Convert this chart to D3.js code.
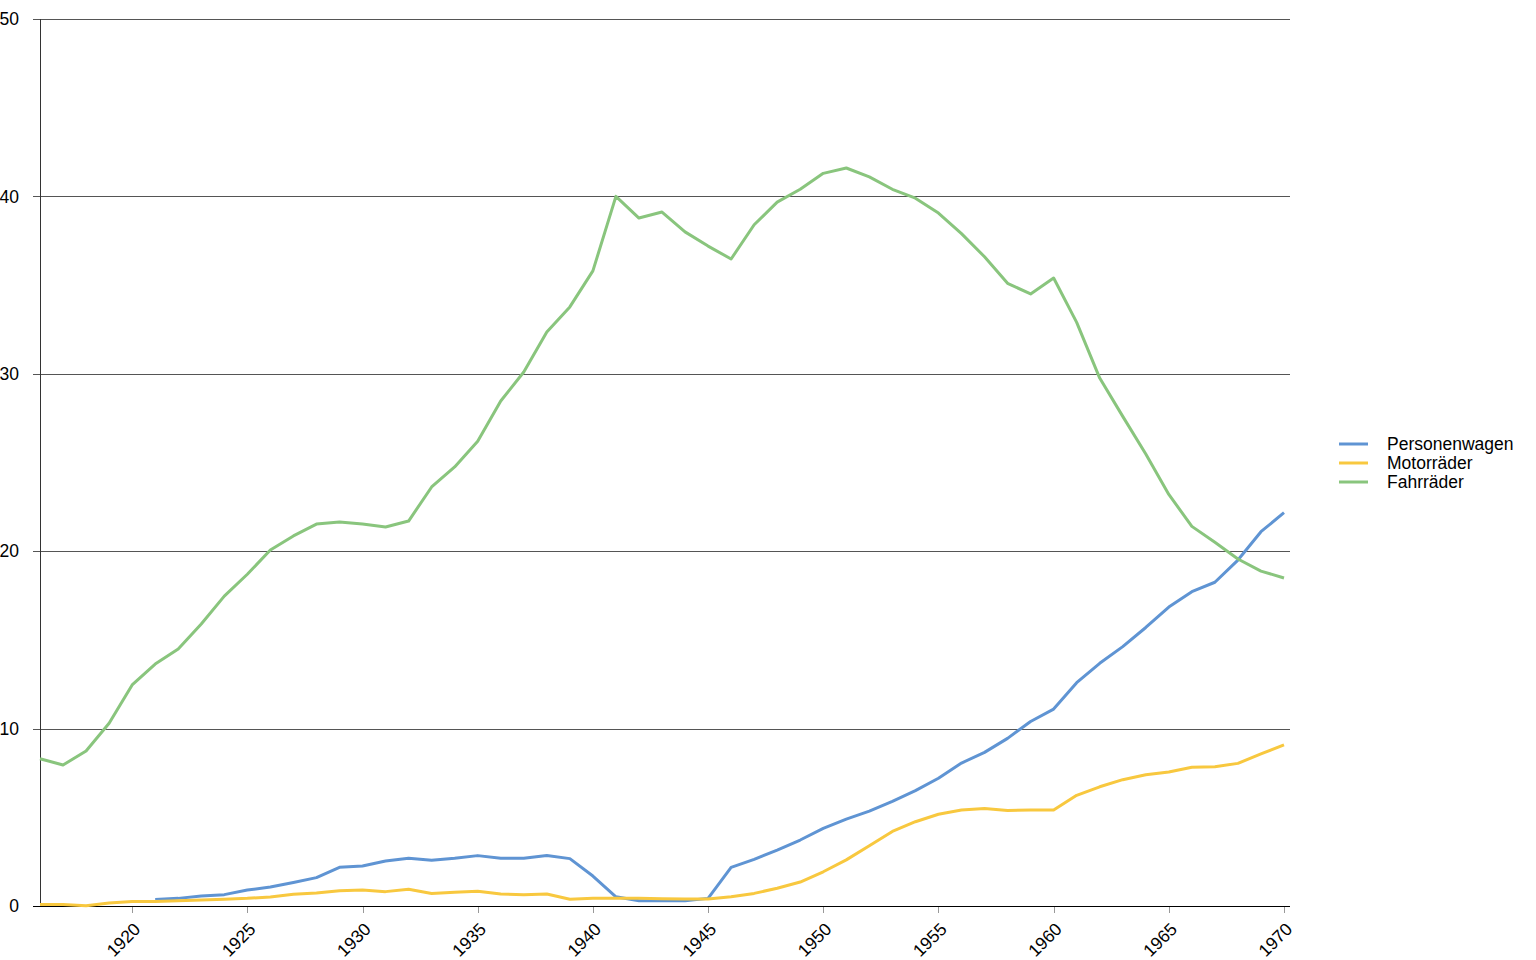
<!DOCTYPE html>
<html><head><meta charset="utf-8">
<script src="https://cdn.jsdelivr.net/npm/d3@7"></script>
<style>body{margin:0;background:#fff}svg{display:block}</style>
</head><body>
<svg id="c" width="1536" height="960"></svg>
<script>
const years = d3.range(1916, 1971);
const seriesNames = ["Personenwagen", "Motorräder", "Fahrräder"];
const seriesColors = ["#5f94d3", "#f8c83f", "#89c57d"];
const yTicks = [0, 10, 20, 30, 40, 50];
const xTicks = [1920, 1925, 1930, 1935, 1940, 1945, 1950, 1955, 1960, 1965, 1970];

// Personenwagen starts in 1921 (null before)
const personenwagen = [null, null, null, null, null,
  0.37, 0.43, 0.56, 0.64, 0.9, 1.07, 1.33, 1.6, 2.18, 2.25,
  2.54, 2.69, 2.58, 2.69, 2.84, 2.69, 2.69, 2.85, 2.67, 1.69,
  0.52, 0.3, 0.3, 0.3, 0.43, 2.18, 2.63, 3.15, 3.72, 4.38,
  4.9, 5.35, 5.9, 6.5, 7.2, 8.06, 8.66, 9.45, 10.4, 11.1,
  12.59, 13.68, 14.62, 15.7, 16.85, 17.72, 18.25, 19.5, 21.1, 22.17];
const motorraeder = [0.08, 0.08, 0.02, 0.17, 0.26,
  0.26, 0.3, 0.34, 0.38, 0.43, 0.51, 0.66, 0.73, 0.86, 0.9,
  0.81, 0.94, 0.71, 0.77, 0.83, 0.68, 0.64, 0.68, 0.38, 0.43,
  0.43, 0.43, 0.41, 0.39, 0.39, 0.52, 0.71, 1.0, 1.35, 1.93,
  2.6, 3.4, 4.2, 4.75, 5.17, 5.41, 5.5, 5.39, 5.41, 5.41,
  6.24, 6.72, 7.12, 7.4, 7.55, 7.82, 7.85, 8.04, 8.57, 9.08];
const fahrraeder = [8.3, 7.95, 8.74, 10.3, 12.46,
  13.64, 14.49, 15.9, 17.47, 18.7, 20.07, 20.86, 21.53, 21.65, 21.53,
  21.36, 21.7, 23.62, 24.75, 26.2, 28.47, 30.1, 32.36, 33.77, 35.8,
  40.0, 38.78, 39.12, 38.0, 37.2, 36.47, 38.4, 39.68, 40.4, 41.3,
  41.6, 41.1, 40.4, 39.9, 39.06, 37.9, 36.6, 35.1, 34.5, 35.4,
  32.9, 29.76, 27.6, 25.48, 23.2, 21.4, 20.5, 19.56, 18.88, 18.49];
const seriesValues = [personenwagen, motorraeder, fahrraeder];

const svg = d3.select("#c");
const font = "'Liberation Sans', Arial, sans-serif";
const fs = 17.5;
const mLeft = 40, mRight = 1290, mTop = 19, mBottom = 906;

const x = d3.scaleLinear().domain([1916, 1970]).range([mLeft, 1284]);
const y = d3.scaleLinear().domain([0, 50]).range([mBottom, mTop]);

// gridlines
svg.append("g").selectAll("line").data(yTicks.filter(d => d > 0)).join("line")
  .attr("x1", mLeft - 7).attr("x2", mRight)
  .attr("y1", d => Math.round(y(d)) + 0.5).attr("y2", d => Math.round(y(d)) + 0.5)
  .attr("stroke", "#555").attr("stroke-width", 1);

// y labels
svg.append("g").selectAll("text").data(yTicks).join("text")
  .attr("x", 19).attr("y", d => y(d)).attr("dy", "0.35em")
  .attr("text-anchor", "end").attr("font-family", font).attr("font-size", fs)
  .attr("fill", "#000").text(d => d);

// x ticks
svg.append("g").selectAll("line").data(xTicks).join("line")
  .attr("x1", d => Math.round(x(d)) + 0.5).attr("x2", d => Math.round(x(d)) + 0.5)
  .attr("y1", mBottom).attr("y2", mBottom + 7)
  .attr("stroke", "#999").attr("stroke-width", 1);

svg.append("g").selectAll("text").data(xTicks).join("text")
  .attr("transform", d => `translate(${x(d) + 5},${mBottom + 20}) rotate(-45)`)
  .attr("text-anchor", "end").attr("dy", "0.35em")
  .attr("font-family", font).attr("font-size", fs).attr("fill", "#000")
  .text(d => d);

// axes lines
svg.append("line").attr("x1", mLeft + 0.5).attr("x2", mLeft + 0.5).attr("y1", mTop).attr("y2", mBottom)
  .attr("stroke", "#333").attr("stroke-width", 1);
svg.append("line").attr("x1", mLeft - 7).attr("x2", mRight).attr("y1", mBottom + 0.5).attr("y2", mBottom + 0.5)
  .attr("stroke", "#000").attr("stroke-width", 1.2);

// lines
const line = d3.line().defined(d => d[1] != null).x(d => x(d[0])).y(d => y(d[1]));
seriesValues.forEach((vals, i) => {
  svg.append("path")
    .datum(years.map((yr, j) => [yr, vals[j]]))
    .attr("d", line).attr("fill", "none")
    .attr("stroke", seriesColors[i]).attr("stroke-width", 3)
    .attr("stroke-linejoin", "round");
});

// legend
const lg = svg.append("g");
seriesNames.forEach((n, i) => {
  const yy = 444 + i * 19;
  lg.append("line").attr("x1", 1339).attr("x2", 1368).attr("y1", yy).attr("y2", yy)
    .attr("stroke", seriesColors[i]).attr("stroke-width", 3);
  lg.append("text").attr("x", 1387).attr("y", yy).attr("dy", "0.35em")
    .attr("font-family", font).attr("font-size", fs).attr("fill", "#000").text(n);
});
</script>
</body></html>
